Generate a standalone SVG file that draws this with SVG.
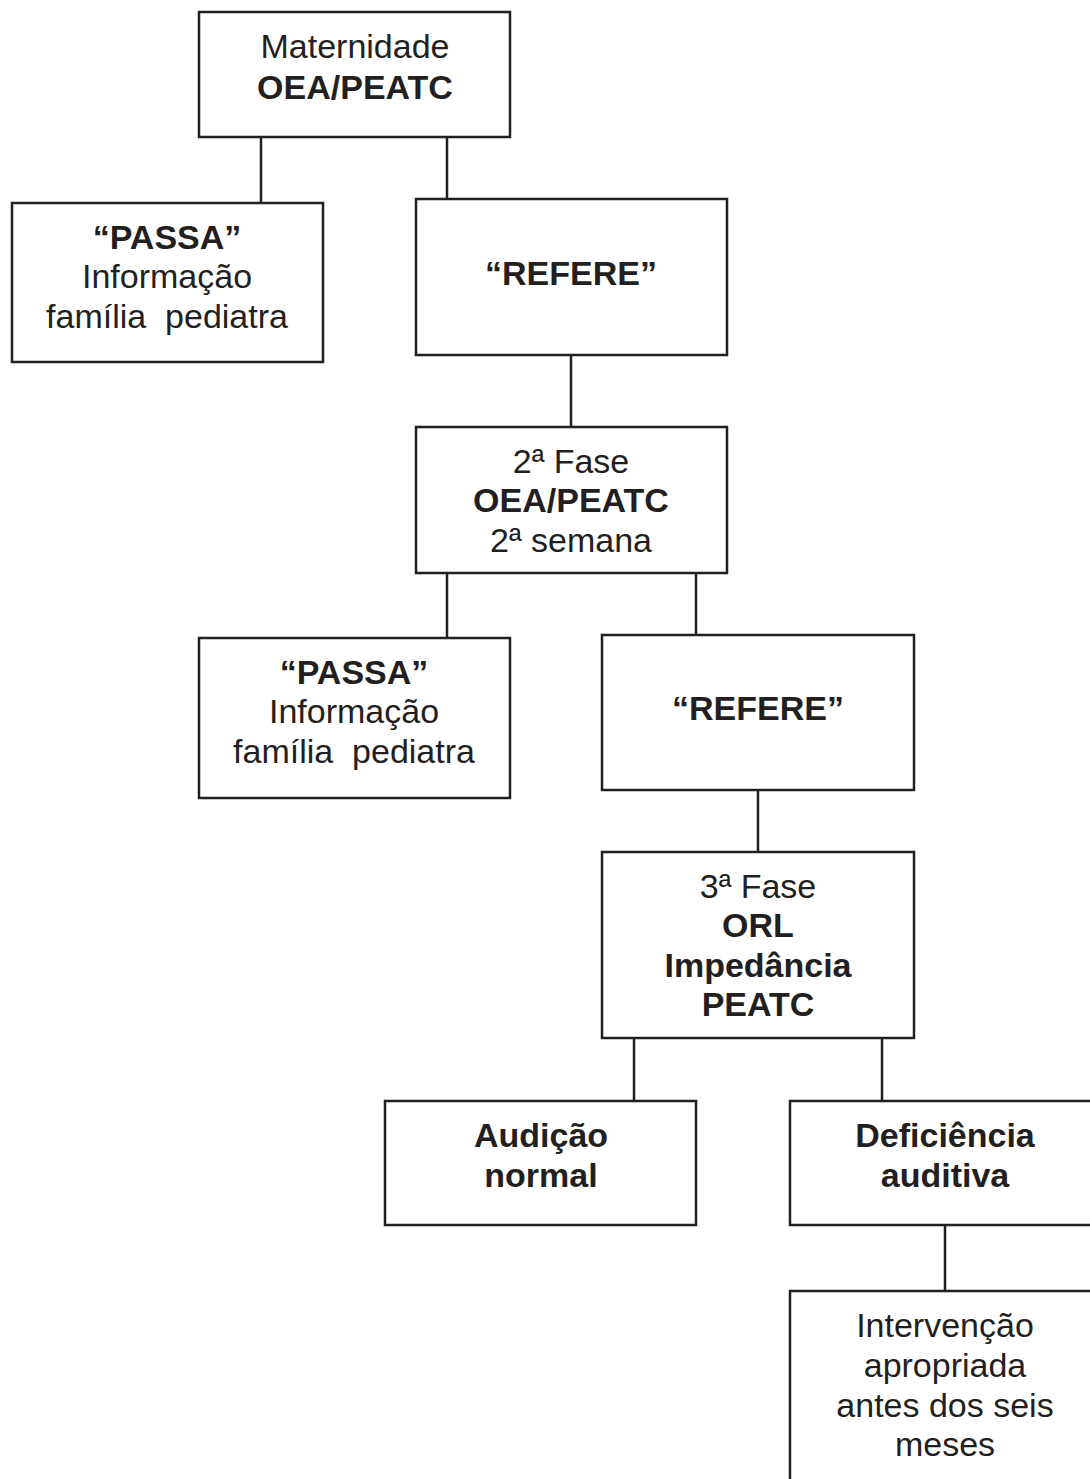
<svg xmlns="http://www.w3.org/2000/svg" width="1090" height="1479" viewBox="0 0 1090 1479">
<style>
rect.box{fill:#fff;stroke:#231f20;stroke-width:2.5}
line{stroke:#231f20;stroke-width:2.5}
text{font-family:"Liberation Sans",Arial,sans-serif;font-size:34px;fill:#231f20;text-anchor:middle}
.b{font-weight:bold}
</style>
<rect width="1090" height="1479" fill="#fff"/>
<g id="connectors">
<line x1="261" y1="137" x2="261" y2="203"/>
<line x1="447" y1="137" x2="447" y2="199"/>
<line x1="571" y1="355" x2="571" y2="427"/>
<line x1="447" y1="573" x2="447" y2="638"/>
<line x1="696" y1="573" x2="696" y2="635"/>
<line x1="758" y1="790" x2="758" y2="852"/>
<line x1="634" y1="1038" x2="634" y2="1101"/>
<line x1="882" y1="1038" x2="882" y2="1101"/>
<line x1="945" y1="1225" x2="945" y2="1291"/>
</g>
<g id="n1"><rect class="box" x="199" y="12" width="311" height="125"/>
<text x="355" y="58">Maternidade</text><text class="b" x="355" y="99">OEA/PEATC</text></g>
<g id="n2"><rect class="box" x="12" y="203" width="311" height="159"/>
<text class="b" x="167" y="249">“PASSA”</text><text x="167" y="288">Informação</text><text x="167" y="328" xml:space="preserve">família  pediatra</text></g>
<g id="n3"><rect class="box" x="416" y="199" width="311" height="156"/>
<text class="b" x="571" y="285">“REFERE”</text></g>
<g id="n4"><rect class="box" x="416" y="427" width="311" height="146"/>
<text x="571" y="473">2ª Fase</text><text class="b" x="571" y="512">OEA/PEATC</text><text x="571" y="552">2ª semana</text></g>
<g id="n5"><rect class="box" x="199" y="638" width="311" height="160"/>
<text class="b" x="354" y="684">“PASSA”</text><text x="354" y="723">Informação</text><text x="354" y="763" xml:space="preserve">família  pediatra</text></g>
<g id="n6"><rect class="box" x="602" y="635" width="312" height="155"/>
<text class="b" x="758" y="720">“REFERE”</text></g>
<g id="n7"><rect class="box" x="602" y="852" width="312" height="186"/>
<text x="758" y="898">3ª Fase</text><text class="b" x="758" y="937">ORL</text><text class="b" x="758" y="977">Impedância</text><text class="b" x="758" y="1016">PEATC</text></g>
<g id="n8"><rect class="box" x="385" y="1101" width="311" height="124"/>
<text class="b" x="541" y="1147">Audição</text><text class="b" x="541" y="1187">normal</text></g>
<g id="n9"><rect class="box" x="790" y="1101" width="312" height="124"/>
<text class="b" x="945" y="1147">Deficiência</text><text class="b" x="945" y="1187">auditiva</text></g>
<g id="n10"><rect class="box" x="790" y="1291" width="312" height="200"/>
<text x="945" y="1337">Intervenção</text><text x="945" y="1377">apropriada</text><text x="945" y="1417">antes dos seis</text><text x="945" y="1456">meses</text></g>
</svg>
